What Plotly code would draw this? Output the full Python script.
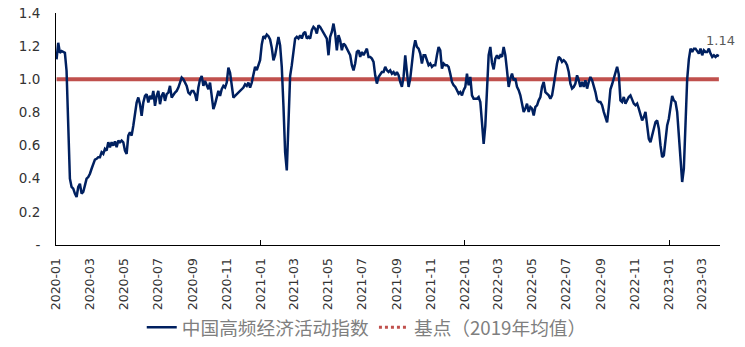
import pandas as pd
import plotly.graph_objects as go

# ---- data ----
series_name = "中国高频经济活动指数"
base_name = "基点（2019年均值）"
start_date = "2020-01-02"
end_date = "2023-03-31"
base_value = 1.0

index_2020a = [1.12, 1.22, 1.16, 1.17, 1.165, 1.16, 1.05, 0.75, 0.40, 0.35, 0.34, 0.31, 0.29, 0.35, 0.37, 0.31,
               0.32, 0.36, 0.40, 0.41, 0.43, 0.46, 0.49, 0.515, 0.52, 0.53, 0.53, 0.56, 0.55, 0.58, 0.57, 0.62,
               0.59, 0.62, 0.60, 0.625, 0.59, 0.63, 0.62, 0.63, 0.62, 0.57, 0.55, 0.66, 0.68, 0.66, 0.72]
index_2020b = [0.80, 0.86, 0.89, 0.85, 0.78, 0.86, 0.90, 0.91, 0.86, 0.90, 0.88, 0.93, 0.84, 0.90, 0.93, 0.85,
               0.90, 0.92, 0.87, 0.91, 0.92, 0.96, 0.89, 0.91, 0.92, 0.93, 0.95, 0.98, 1.01, 1.00, 0.98, 0.96,
               0.92, 0.91, 0.93, 0.93, 0.91, 0.87, 0.95, 1.00, 1.02, 0.96, 0.99, 0.96, 0.94, 0.98, 0.91, 0.82,
               0.85, 0.90, 0.93]
index_2021a = [0.90, 0.94, 0.96, 0.95, 0.98, 1.07, 1.04, 0.96, 0.89, 0.90, 0.91, 0.92, 0.93, 0.94, 0.95, 0.97,
               0.96, 0.98, 0.95, 0.98, 1.04, 1.075, 1.055, 1.085, 1.115, 1.21, 1.26, 1.25, 1.27, 1.26, 1.24, 1.19,
               1.115, 1.145, 1.205, 1.255, 1.205, 1.075, 0.84, 0.56, 0.45, 0.78, 1.02, 1.085, 1.165, 1.246, 1.256,
               1.246, 1.266, 1.246, 1.276]
index_2021b = [1.286, 1.246, 1.256, 1.246, 1.296, 1.316, 1.306, 1.276, 1.326, 1.316, 1.296, 1.286, 1.256, 1.246,
               1.145, 1.256, 1.286, 1.336, 1.276, 1.175, 1.266, 1.236, 1.175, 1.216, 1.205, 1.185, 1.165, 1.145,
               1.085, 1.054, 1.095, 1.165, 1.175, 1.135, 1.165, 1.145, 1.165, 1.185, 1.135, 1.135, 1.125, 1.105,
               1.024, 0.974, 1.014, 1.034, 1.044, 1.044, 1.075, 1.054, 1.044]
index_2021c = [1.054, 1.034, 1.044, 1.024, 1.044, 1.024, 0.984, 0.954, 1.014, 1.145, 1.044, 0.954, 1.004, 1.115,
               1.185, 1.236, 1.195, 1.185, 1.155, 1.095, 1.145, 1.145, 1.115, 1.085, 1.095, 1.075, 1.085, 1.085,
               1.145, 1.195, 1.175, 1.064, 1.095, 1.085, 1.085, 1.075, 1.034, 0.984, 0.964, 0.954, 0.934, 0.913,
               0.923, 0.903, 0.934, 0.954, 1.034, 0.964, 1.014, 0.903, 0.883]
index_2022a = [0.883, 0.883, 0.893, 0.863, 0.74, 0.61, 0.72, 0.99, 1.145, 1.195, 1.10, 1.06, 1.125, 1.145, 1.125,
               1.145, 1.135, 1.195, 1.145, 1.054, 0.954, 1.004, 1.034, 0.994, 1.004, 0.954, 0.934, 0.903, 0.843,
               0.803, 0.823, 0.853, 0.803, 0.833, 0.823, 0.782, 0.833, 0.843, 0.873, 0.893, 0.954, 0.984, 0.923,
               0.913, 0.903, 0.883, 0.903, 0.964, 1.034, 1.095, 1.135]
index_2022b = [1.125, 1.105, 1.115, 1.105, 1.085, 1.044, 0.974, 0.944, 0.954, 0.974, 1.024, 0.994, 0.954, 0.984,
               0.954, 0.994, 0.944, 0.984, 1.014, 0.994, 0.964, 0.923, 0.873, 0.863, 0.863, 0.843, 0.803, 0.762,
               0.74, 0.83, 0.94, 0.97, 1.01, 1.04, 1.075, 1.03, 0.873, 0.863, 0.893, 0.853, 0.873, 0.893, 0.903,
               0.873, 0.853, 0.843, 0.853, 0.823, 0.782, 0.752, 0.772]
index_2023 = [0.803, 0.722, 0.641, 0.621, 0.662, 0.702, 0.742, 0.752, 0.702, 0.601, 0.531, 0.541, 0.641, 0.722,
              0.762, 0.823, 0.90, 0.873, 0.863, 0.803, 0.662, 0.501, 0.38, 0.46, 0.78, 1.00, 1.12, 1.185, 1.165,
              1.185, 1.185, 1.165, 1.155, 1.185, 1.145, 1.175, 1.165, 1.165, 1.185, 1.155, 1.135, 1.145, 1.135,
              1.145, 1.14]

index_values = (index_2020a + index_2020b + index_2021a + index_2021b + index_2021c
                + index_2022a + index_2022b + index_2023)
dates = pd.date_range(start_date, end_date, periods=len(index_values))
base_values = [base_value] * len(dates)

y_tickvals = [0, 0.2, 0.4, 0.6, 0.8, 1.0, 1.2, 1.4]
y_ticktext = ["-", "0.2", "0.4", "0.6", "0.8", "1.0", "1.2", "1.4"]

# ---- styles ----
NAVY = "#002060"
RED = "#C0504D"
x_range = ["2020-01-01", "2023-04-02"]
tick_font = dict(family="DejaVu Sans", size=12.5, color="#333333")

fig = go.Figure()
fig.add_trace(go.Scatter(x=dates, y=base_values, mode="lines", line=dict(color=RED, width=4),
                         showlegend=False, hoverinfo="skip"))
fig.add_trace(go.Scatter(x=dates, y=index_values, mode="lines", name=series_name, xaxis="x2",
                         line=dict(color=NAVY, width=2.5), legendrank=1))
fig.add_trace(go.Scatter(x=[None], y=[None], mode="lines", name=base_name,
                         line=dict(color=RED, width=3, dash="dot"), legendrank=2))

fig.add_annotation(x=dates[-1], y=index_values[-1], xref="x", yref="y",
                   text=f"{index_values[-1]:.2f}", showarrow=False, yshift=16, xshift=2,
                   font=dict(family="DejaVu Sans", size=13, color="#595959"))

fig.update_layout(
    width=745, height=347,
    margin=dict(l=56, r=25, t=13, b=102, autoexpand=False),
    paper_bgcolor="white", plot_bgcolor="white",
    xaxis=dict(type="date", range=x_range, tick0="2020-01-01", dtick="M2", tickformat="%Y-%m",
               tickangle=-90, ticks="", showgrid=False, zeroline=False, automargin=False,
               showline=True, linecolor="black", linewidth=1, tickfont=tick_font,
               ticklabelstandoff=7),
    xaxis2=dict(type="date", range=x_range, overlaying="x", side="bottom", anchor="y",
                tick0="2020-01-01", dtick="M12", ticks="inside", ticklen=5, tickcolor="black",
                tickwidth=1, showticklabels=False, showgrid=False, zeroline=False, showline=False,
                automargin=False),
    yaxis=dict(range=[0, 1.4], tickvals=y_tickvals, ticktext=y_ticktext, ticks="",
               showgrid=False, zeroline=False, showline=True, linecolor="black", linewidth=1,
               tickfont=dict(family="DejaVu Sans", size=13.5, color="#333333"),
               ticklabelstandoff=12, automargin=False),
    legend=dict(orientation="h", x=0.468, xanchor="center", y=-0.356, yanchor="middle",
                font=dict(family="Noto Sans CJK SC", size=18.7, color="#7F7F7F"),
                bgcolor="rgba(0,0,0,0)", itemwidth=30, tracegroupgap=0),
    showlegend=True,
)

fig.write_html("out.html")
